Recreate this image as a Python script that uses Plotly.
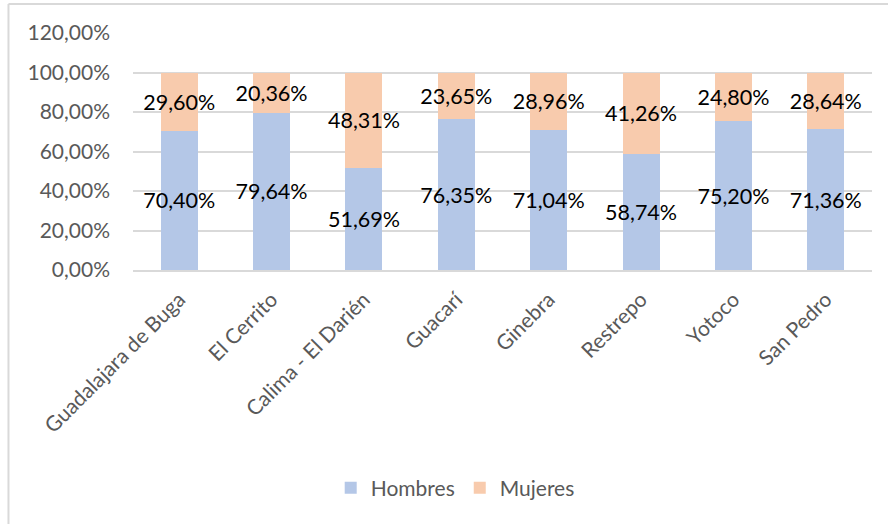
import plotly.graph_objects as go

categories = ["Guadalajara de Buga", "El Cerrito", "Calima - El Darién", "Guacarí",
              "Ginebra", "Restrepo", "Yotoco", "San Pedro"]
hombres = [70.40, 79.64, 51.69, 76.35, 71.04, 58.74, 75.20, 71.36]
mujeres = [29.60, 20.36, 48.31, 23.65, 28.96, 41.26, 24.80, 28.64]

FONT = "Lato, Open Sans, sans-serif"
GRAY = "#595959"

fig = go.Figure()
for name, vals, color in [("Hombres", hombres, "#B4C7E7"), ("Mujeres", mujeres, "#F8CBAD")]:
    fig.add_trace(go.Bar(
        x=categories, y=[v / 100 for v in vals], name=name,
        marker=dict(color=color, line=dict(width=0)),
        texttemplate="%{y:.2%}", textposition="inside", insidetextanchor="middle",
        textangle=0, constraintext="none",
        textfont=dict(family=FONT, size=21.5, color="black"),
        hoverinfo="x+y+name",
    ))

fig.update_layout(
    barmode="stack", bargap=0.6,
    separators=",.",
    width=888, height=524,
    margin=dict(l=133, r=16, t=33, b=254),
    paper_bgcolor="white", plot_bgcolor="white",
    font=dict(family=FONT, size=21, color=GRAY),
    showlegend=True,
    legend=dict(orientation="h", x=0.436, xanchor="center", y=-0.92, yanchor="middle",
                font=dict(family=FONT, size=21, color=GRAY), traceorder="normal",
                itemwidth=30),
    xaxis=dict(tickangle=-45, automargin=False, showgrid=False,
               showline=True, linecolor="#d9d9d9", linewidth=2,
               tickfont=dict(family=FONT, size=21, color=GRAY), ticks="",
               ticklabelstandoff=7),
    yaxis=dict(range=[0, 1.2], dtick=0.2, tickformat=".2%", automargin=False,
               showgrid=True, gridcolor="#d9d9d9", gridwidth=2, zeroline=False,
               showline=False, ticks="", ticklabelstandoff=22,
               tickfont=dict(family=FONT, size=21, color=GRAY)),
    shapes=[
        dict(type="line", xref="paper", yref="paper", x0=-0.1685, x1=1.03, y0=1.1224, y1=1.1224,
             line=dict(color="#d9d9d9", width=2)),
        dict(type="line", xref="paper", yref="paper", x0=-0.1685, x1=-0.1685, y0=1.1224, y1=-1.1,
             line=dict(color="#d9d9d9", width=2)),
    ],
)

fig.write_html("out.html", config={"displayModeBar": False},
               post_script="document.body.style.margin='0';")
